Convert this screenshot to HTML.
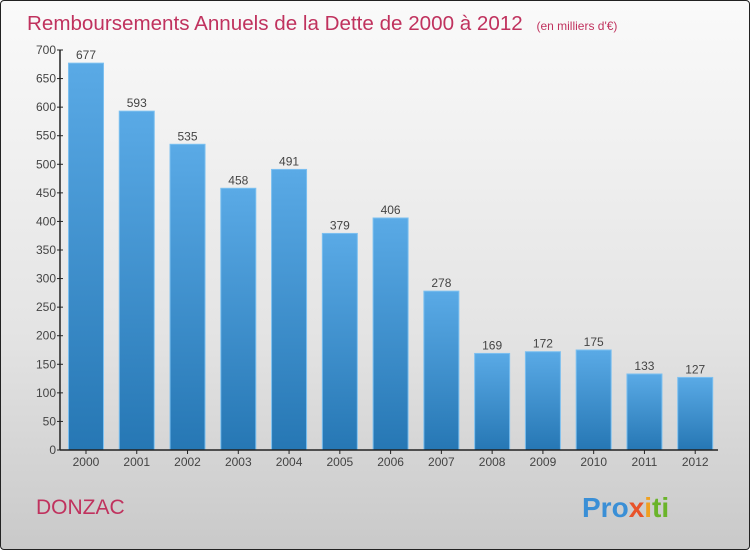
<!DOCTYPE html>
<html><head><meta charset="utf-8"><style>
body{margin:0;width:750px;height:550px;overflow:hidden;font-family:"Liberation Sans",sans-serif}
#c{position:absolute;left:0;top:0;width:748px;height:548px;border:1px solid #222;border-radius:4px;background:linear-gradient(#fafafa,#e4e4e4 60%,#c9c9c9)}
</style></head><body>
<div id="c"></div>
<svg id="s" width="750" height="550" style="position:absolute;left:0;top:0">
<defs><linearGradient id="g" x1="0" y1="0" x2="0" y2="1"><stop offset="0" stop-color="#5aaae6"/><stop offset="1" stop-color="#2677b4"/></linearGradient></defs>
<text x="27" y="30" font-size="20.6" fill="#c0325e">Remboursements Annuels de la Dette de 2000 à 2012 <tspan font-size="12" dx="8">(en milliers d'€)</tspan></text>
<text x="36" y="514" font-size="21" fill="#c0325e">DONZAC</text>
<text x="582" y="517" font-size="28" font-weight="bold"><tspan fill="#3a8fd6">Pro</tspan><tspan fill="#e8532a">x</tspan><tspan fill="#f0a020">i</tspan><tspan fill="#6ab42a">ti</tspan></text>
<g id="plot"></g>
</svg>
<script>
const categories=["2000","2001","2002","2003","2004","2005","2006","2007","2008","2009","2010","2011","2012"];
const values=[677,593,535,458,491,379,406,278,169,172,175,133,127];
const yTicks=[0,50,100,150,200,250,300,350,400,450,500,550,600,650,700];
const x0=60,x1=720,y0=450,y1=50,ymax=700;
const step=(x1-x0)/categories.length;
const y=v=>y0-(v/ymax)*(y0-y1);
const ns="http://www.w3.org/2000/svg",p=document.getElementById('plot');
function mk(t,a,txt){const e=document.createElementNS(ns,t);for(const k in a)e.setAttribute(k,a[k]);if(txt!=null)e.textContent=txt;p.appendChild(e);return e;}
values.forEach((v,i)=>{
 const cx=x0+step*i+step/2+0.6;
 const r=mk('rect',{x:cx-17.5,y:y(v),width:35,height:y0-y(v),fill:'url(#g)',stroke:'#7cc0f0','stroke-width':1});
 
 
 const t=mk('text',{x:cx,y:y(v)-4,'font-size':12,fill:'#444','text-anchor':'middle'},String(v));
 
 
 const c=mk('text',{x:cx,y:y0+16,'font-size':12,fill:'#444','text-anchor':'middle'},categories[i]);
 
 
 mk('line',{x1:cx,x2:cx,y1:y0,y2:y0+4,stroke:'#222'});
});
yTicks.forEach(v=>{
 mk('line',{x1:x0-3,x2:x0+3,y1:y(v),y2:y(v),stroke:'#222'});
 const t=mk('text',{x:x0-4,y:y(v)+4,'font-size':12,fill:'#444','text-anchor':'end'},String(v));
 
 
});
const ya=mk('line',{x1:x0,x2:x0,y1:y1,y2:y0,stroke:'#222','stroke-width':1.5});


const xa=mk('line',{x1:x0,x2:x1-2,y1:y0,y2:y0,stroke:'#222','stroke-width':1.5});


</script>
</body></html>
